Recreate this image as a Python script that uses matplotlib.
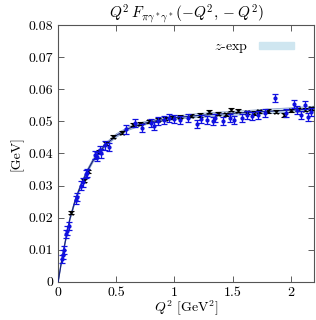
import matplotlib
matplotlib.use("Agg")
import matplotlib.pyplot as plt
import numpy as np
from matplotlib.patches import Patch

plt.rcParams['font.family'] = 'cmr10'
plt.rcParams['mathtext.fontset'] = 'cm'
plt.rcParams['axes.formatter.use_mathtext'] = True
plt.rcParams['font.size'] = 10

# z-expansion fit curve
fit_q2 = [0, 0.025, 0.05, 0.1, 0.15, 0.2, 0.25, 0.3, 0.4, 0.5, 0.6, 0.7, 0.8,
          1.0, 1.2, 1.4, 1.6, 1.8, 2.0, 2.2]
fit_f = [0, 0.0055, 0.0105, 0.0195, 0.0258, 0.0305, 0.0345, 0.0378, 0.0425,
         0.0456, 0.0477, 0.0490, 0.0499, 0.0511, 0.0518, 0.0523, 0.0527,
         0.0531, 0.0535, 0.0539]
fit_err = [0, 0.0002, 0.0003, 0.0004, 0.0005, 0.0005, 0.0005, 0.0005, 0.0005,
           0.0005, 0.0005, 0.0005, 0.0005, 0.0005, 0.0006, 0.0006, 0.0006,
           0.0007, 0.0007, 0.0008]

# black data set
black_q2 = [0.11, 0.22, 0.26, 0.35, 0.41, 0.47, 0.55, 0.64, 0.70, 0.78, 0.86,
            0.92, 0.98, 1.05, 1.14, 1.22, 1.30, 1.37, 1.44, 1.49, 1.55, 1.62,
            1.68, 1.73, 1.80, 1.87, 1.94, 2.00, 2.06, 2.12, 2.17]
black_f = [0.0215, 0.0315, 0.0345, 0.0405, 0.0430, 0.0452, 0.0465, 0.0489,
           0.0493, 0.0500, 0.0505, 0.0508, 0.0512, 0.0515, 0.0518, 0.0520,
           0.0530, 0.0524, 0.0522, 0.0536, 0.0533, 0.0528, 0.0526, 0.0531,
           0.0532, 0.0530, 0.0520, 0.0534, 0.0538, 0.0536, 0.0540]
black_err = [0.0005] * len(black_q2)

# blue data set
blue_q2 = [0.03, 0.04, 0.05, 0.07, 0.08, 0.09, 0.15, 0.16, 0.20, 0.21, 0.24,
           0.25, 0.32, 0.33, 0.36, 0.37, 0.40, 0.44, 0.58, 0.66, 0.72, 0.80,
           0.82, 0.86, 0.91, 0.95, 1.00, 1.05, 1.12, 1.19, 1.23, 1.28, 1.33,
           1.35, 1.42, 1.48, 1.51, 1.58, 1.62, 1.67, 1.72, 1.78, 1.86, 1.96,
           2.03, 2.05, 2.09, 2.12, 2.15, 2.17]
blue_f = [0.0072, 0.0085, 0.0100, 0.0150, 0.0160, 0.0175, 0.0255, 0.0265,
          0.0300, 0.0310, 0.0335, 0.0340, 0.0395, 0.0390, 0.0410, 0.0400,
          0.0425, 0.0420, 0.0475, 0.0495, 0.0480, 0.0495, 0.0485, 0.0500,
          0.0505, 0.0510, 0.0508, 0.0505, 0.0510, 0.0492, 0.0508, 0.0505,
          0.0500, 0.0510, 0.0500, 0.0510, 0.0505, 0.0510, 0.0520, 0.0517,
          0.0520, 0.0525, 0.0573, 0.0525, 0.0554, 0.0535, 0.0520, 0.0551,
          0.0514, 0.0530]
blue_err = [0.0013] * len(blue_q2)

fig = plt.figure(figsize=(3.16, 3.20), dpi=100)
ax = fig.add_axes([0.184, 0.119, 0.810, 0.803])

lo = np.array(fit_f) - np.array(fit_err)
hi = np.array(fit_f) + np.array(fit_err)
ax.fill_between(fit_q2, lo, hi, color='#cfe6f0', lw=0, zorder=1)
ax.plot(fit_q2, lo, color='#8aa0c8', lw=0.6, zorder=2)
ax.plot(fit_q2, hi, color='#8aa0c8', lw=0.6, zorder=2)
ax.plot(fit_q2, fit_f, color='#1a237e', lw=0.9, zorder=3)

ax.errorbar(black_q2, black_f, yerr=black_err, fmt='x', color='black',
            ms=2.5, mew=0.8, elinewidth=0.8, capsize=2, capthick=0.8, zorder=4)
ax.errorbar(blue_q2, blue_f, yerr=blue_err, fmt='o', color='#1010e0',
            ms=2.0, elinewidth=0.9, capsize=2.2, capthick=0.9, zorder=5)

ax.set_xlim(0, 2.2)
ax.set_ylim(0, 0.08)
ax.set_xticks([0, 0.5, 1, 1.5, 2])
ax.set_xticklabels(['0', '0.5', '1', '1.5', '2'])
ax.set_yticks([0, 0.01, 0.02, 0.03, 0.04, 0.05, 0.06, 0.07, 0.08])
ax.set_yticklabels(['0', '0.01', '0.02', '0.03', '0.04', '0.05', '0.06', '0.07', '0.08'])
ax.tick_params(direction='in', top=True, right=True, length=4, width=0.6,
               colors='#444444', labelcolor='black', labelsize=10)
for s in ax.spines.values():
    s.set_color('#555555')
    s.set_linewidth(0.8)

ax.set_title(r'$Q^2\,F_{\pi\gamma^*\gamma^*}(-Q^2,-Q^2)$', fontsize=11, pad=5)
ax.set_xlabel(r'$Q^2$ [GeV$^2$]', fontsize=10, labelpad=0)
ax.set_ylabel('[GeV]', fontsize=10, labelpad=4)

ax.legend([Patch(color='#cfe6f0')], [r'$z$-exp'], loc='upper right',
          frameon=False, markerfirst=False, handlelength=2.5, handleheight=0.5,
          fontsize=10, bbox_to_anchor=(0.97, 0.985))

fig.savefig('out.png', dpi=100)
